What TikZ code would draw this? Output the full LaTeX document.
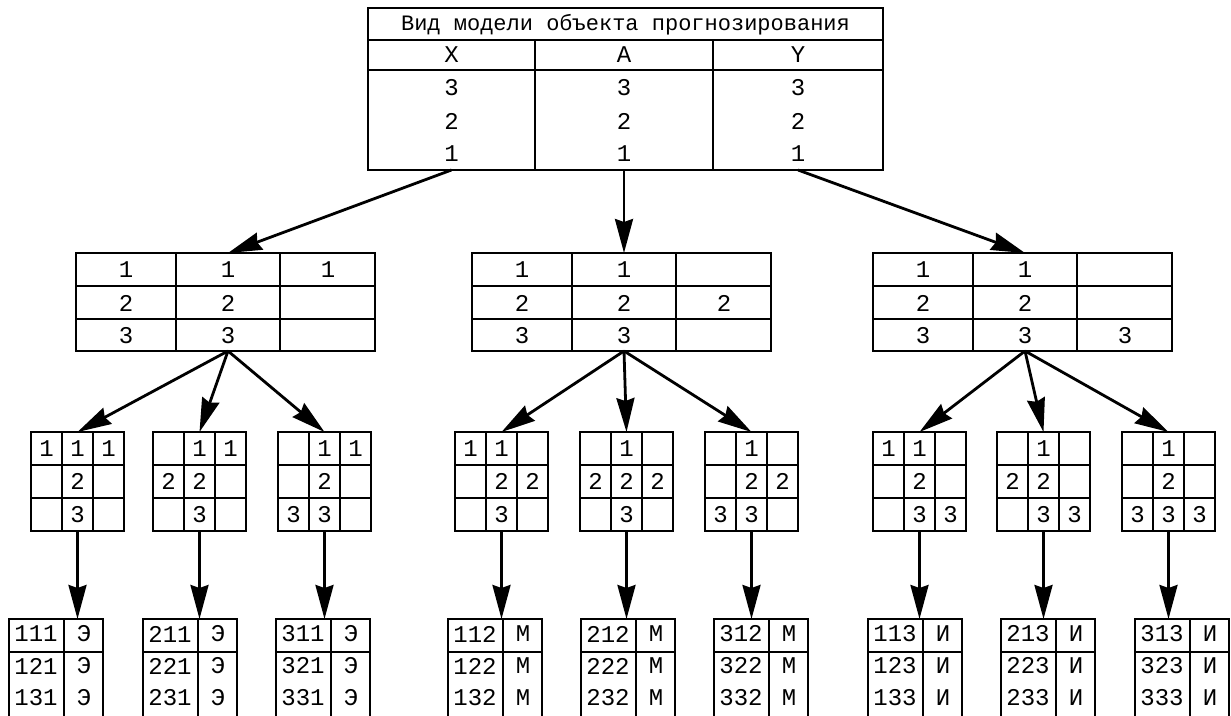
\documentclass[tikz,border=0pt]{standalone}
\usepackage{fontspec}
\setmainfont{Liberation Mono}
\usetikzlibrary{arrows.meta}
\tikzset{
  >=stealth,
  tbl/.style={draw, line width=1.4pt, inner sep=0pt, outer sep=0pt},
  rule/.style={line width=1.4pt},
  cell/.style={inner sep=0pt, font=\fontsize{24}{26}\selectfont},
  arrow/.style={-{Stealth[length=34pt, width=18pt, inset=3pt]}, line width=2.8pt}
}

\begin{document}
\begin{tikzpicture}[x=1pt, y=-1pt]
    \clip (0,0) rectangle (1231,715);

    % top table
    \node[tbl, minimum width=515pt, minimum height=162pt, anchor=north west] (top) at (368,8) {};
    \draw[rule] (368,40) -- (883,40) (368,70) -- (883,70)
        (535,40) -- (535,170) (713,40) -- (713,170);
    \node[cell, font=\fontsize{22}{24}\selectfont] (title) at (625.5,25) {Вид модели объекта прогнозирования};
    \node[cell] (hx) at (451.5,55) {X};
    \node[cell] (ha) at (624,55) {A};
    \node[cell] (hy) at (798,55) {Y};
    \foreach \v/\yy in {3/88,2/121,1/154} {
        \node[cell] (x\v) at (451.5,\yy) {\v};
        \node[cell] (a\v) at (624,\yy) {\v};
        \node[cell] (y\v) at (798,\yy) {\v};
    }

    % second level
    \foreach \i/\L in {1/76,2/472,3/873} {
        \node[tbl, minimum width=299pt, minimum height=98pt, anchor=north west] (m\i) at (\L,253) {};
        \draw[rule] (\L,286) -- ++(299,0) (\L,319) -- ++(299,0)
            ({\L+100},253) -- ++(0,98) ({\L+204},253) -- ++(0,98);
        \foreach \r in {1,2,3} {
            \node[cell] (m\i a\r) at ({\L+50},{237+33*\r}) {\r};
            \node[cell] (m\i b\r) at ({\L+152},{237+33*\r}) {\r};
        }
        \node[cell] (m\i c) at ({\L+252},{237+33*\i}) {\i};
    }

    % third level
    \foreach \x/\y/\G in {1/1/31,2/1/153,3/1/278,1/2/455,2/2/580,3/2/705,1/3/873,2/3/997,3/3/1122} {
        \node[tbl, minimum width=93pt, minimum height=99pt, anchor=north west] (g\x\y) at (\G,432) {};
        \draw[rule] ({\G+31},432) -- ++(0,99) ({\G+62},432) -- ++(0,99)
            (\G,465) -- ++(93,0) (\G,498) -- ++(93,0);
        \node[cell] (g\x\y a) at ({\G+15.5},{415.5+33*\x}) {\x};
        \foreach \r in {1,2,3}
            \node[cell] (g\x\y b\r) at ({\G+46.5},{415.5+33*\r}) {\r};
        \node[cell] (g\x\y c) at ({\G+77.5},{415.5+33*\y}) {\y};
    }

    % results
    \foreach \x/\y/\B/\K in {1/1/9/Э,2/1/143/Э,3/1/276/Э,1/2/448/М,2/2/581/М,3/2/714/М,1/3/868/И,2/3/1001/И,3/3/1135/И} {
        \node[tbl, minimum width=94pt, minimum height=100pt, anchor=north west] (r\x\y) at (\B,619) {};
        \draw[rule] (\B,652) -- ++(94,0) ({\B+55},619) -- ++(0,100);
        \foreach \r in {1,2,3} {
            \node[cell] (r\x\y n\r) at ({\B+27},{602+32*\r}) {\x\r\y};
            \node[cell] (r\x\y k\r) at ({\B+75},{602+32*\r}) {\K};
        }
    }

    % arrows
    \draw[arrow] (x1 |- top.south) -- (m1b1 |- m1.north);
    \draw[arrow] (a1 |- top.south) -- (m2b1 |- m2.north);
    \draw[arrow] (y1 |- top.south) -- (m3b1 |- m3.north);
    \foreach \y in {1,2,3}
        \foreach \x in {1,2,3} {
            \draw[arrow] (m\y b3 |- m\y.south) -- (g\x\y.north);
            \draw[arrow] (g\x\y.south) -- (g\x\y.south |- r\x\y.north);
        }
\end{tikzpicture}
\end{document}
